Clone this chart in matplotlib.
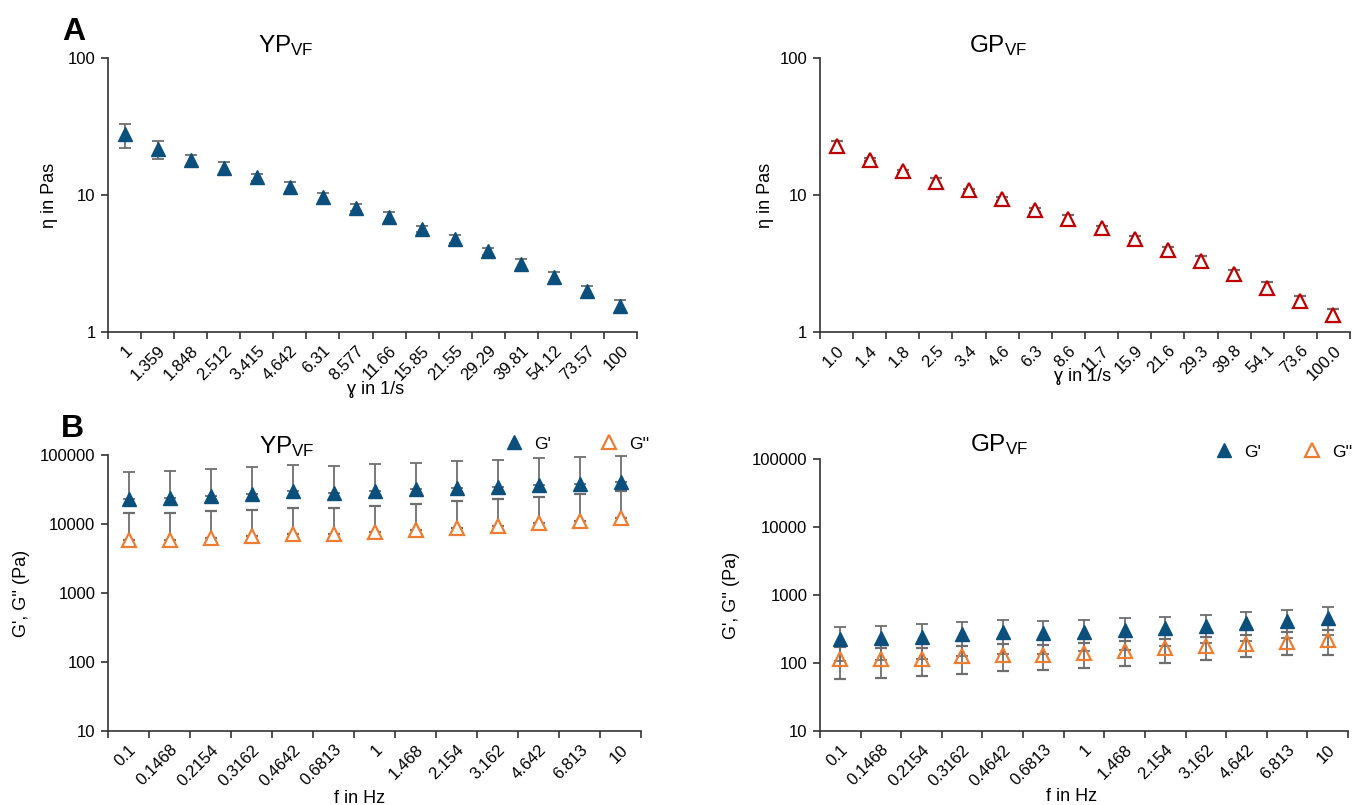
import matplotlib
matplotlib.use("Agg")
import matplotlib.pyplot as plt
from matplotlib.lines import Line2D
from matplotlib.ticker import FixedLocator, FixedFormatter, NullLocator
import numpy as np

plt.rcParams['font.family'] = ['Liberation Sans', 'DejaVu Sans']
plt.rcParams['mathtext.fontset'] = 'custom'
plt.rcParams['mathtext.rm'] = 'Liberation Sans'
plt.rcParams['mathtext.it'] = 'Liberation Sans'

# ---------------- data ----------------
yp_shear_labels = ['1', '1.359', '1.848', '2.512', '3.415', '4.642', '6.31', '8.577',
                   '11.66', '15.85', '21.55', '29.29', '39.81', '54.12', '73.57', '100']
yp_eta = [27.7, 21.6, 17.9, 15.8, 13.5, 11.5, 9.6, 8.1, 6.9, 5.65, 4.8, 3.88, 3.13, 2.5, 1.98, 1.54]
yp_eta_err = [5.5, 3.3, 1.6, 1.5, 0.8, 0.9, 0.8, 0.5, 0.6, 0.3, 0.3, 0.23, 0.28, 0.22, 0.17, 0.17]

gp_shear_labels = ['1.0', '1.4', '1.8', '2.5', '3.4', '4.6', '6.3', '8.6', '11.7', '15.9',
                   '21.6', '29.3', '39.8', '54.1', '73.6', '100.0']
gp_eta = [22.8, 18.1, 14.9, 12.5, 10.8, 9.3, 7.8, 6.65, 5.7, 4.8, 4.0, 3.3, 2.64, 2.11, 1.68, 1.32]
gp_eta_err = [1.8, 0.4, 0.4, 0.9, 0.3, 0.3, 0.3, 0.55, 0.2, 0.2, 0.2, 0.26, 0.2, 0.2, 0.15, 0.14]

freq_labels = ['0.1', '0.1468', '0.2154', '0.3162', '0.4642', '0.6813', '1', '1.468',
               '2.154', '3.162', '4.642', '6.813', '10']
yp_g1 = [23200, 24200, 25600, 26800, 29700, 28000, 30300, 31700, 33100, 34600, 36600, 38300, 40000]
yp_g1_err = [33400, 35000, 36400, 39400, 41100, 42000, 42800, 44800, 47800, 49000, 52900, 54200, 57800]
yp_g2 = [5800, 5940, 6200, 6640, 7100, 7180, 7590, 8110, 8670, 9270, 10370, 11220, 12400]
yp_g2_err = [8400, 8560, 9000, 9360, 10000, 10120, 10710, 11490, 12530, 13630, 14430, 15880, 17900]
gp_g1 = [222, 230, 243, 263, 282, 272, 288, 305, 330, 353, 382, 414, 463]
gp_g1_err = [115, 119, 127, 137, 146, 137, 140, 148, 150, 154, 173, 180, 202]
gp_g2 = [116, 113, 116, 125, 132, 132, 140, 151, 164, 177, 192, 207, 217]
gp_g2_err = [57, 52, 51, 55, 56, 53, 55, 60, 64, 67, 70, 77, 87]

eta_ticks = [1, 10, 100]
mod_ticks = [10, 100, 1000, 10000, 100000]

# ---------------- style ----------------
BLUE = '#0B4F7C'
RED = '#C00000'
ORANGE = '#ED7D31'
GREY = '#6E6E6E'
AXC = '#333333'

W, H = 1354, 805
fig = plt.figure(figsize=(W / 100, H / 100), dpi=100)


def px_axes(x0, x1, ytop, ybot):
    return fig.add_axes([x0 / W, 1 - ybot / H, (x1 - x0) / W, (ybot - ytop) / H])


def style_axes(ax, labels, yticks):
    n = len(labels)
    ax.set_yscale('log')
    ax.set_ylim(yticks[0], yticks[-1])
    ax.set_xlim(-0.5, n - 0.5)
    for s in ('top', 'right'):
        ax.spines[s].set_visible(False)
    for s in ('left', 'bottom'):
        ax.spines[s].set_color(AXC)
        ax.spines[s].set_linewidth(1.2)
    ax.yaxis.set_major_locator(FixedLocator(yticks))
    ax.yaxis.set_major_formatter(FixedFormatter([str(t) for t in yticks]))
    ax.yaxis.set_minor_locator(NullLocator())
    ax.tick_params(axis='y', direction='out', length=5, width=1.2, color=AXC,
                   labelsize=12, pad=4, labelcolor='black')
    # category boundaries as tick marks, labels at centres
    ax.xaxis.set_major_locator(FixedLocator(np.arange(-0.5, n, 1.0)))
    ax.xaxis.set_major_formatter(FixedFormatter([''] * (n + 1)))
    ax.xaxis.set_minor_locator(FixedLocator(np.arange(n)))
    ax.xaxis.set_minor_formatter(FixedFormatter(labels))
    ax.tick_params(axis='x', which='major', direction='out', length=5, width=1.2, color=AXC)
    ax.tick_params(axis='x', which='minor', length=0, labelsize=12, pad=8)
    for lab in ax.get_xticklabels(minor=True):
        lab.set_rotation(45)
        lab.set_ha('right')
        lab.set_va('top')
        lab.set_rotation_mode('anchor')


eb_kw = dict(ecolor=GREY, elinewidth=1.3, capsize=4.5, capthick=1.3, linestyle='none')

# ---- Panel A left ----
ax1 = px_axes(108, 637, 58, 332)
style_axes(ax1, yp_shear_labels, eta_ticks)
x16 = np.arange(len(yp_shear_labels))
ax1.errorbar(x16, yp_eta, yerr=yp_eta_err, marker='^', ms=9.5, mfc=BLUE, mec=BLUE,
             zorder=3, **eb_kw)

# ---- Panel A right ----
ax2 = px_axes(820, 1350, 58, 332)
style_axes(ax2, gp_shear_labels, eta_ticks)
ax2.errorbar(x16, gp_eta, yerr=gp_eta_err, marker='^', ms=10, mfc='white', mec=RED,
             mew=1.6, zorder=3, **eb_kw)

# ---- Panel B left ----
ax3 = px_axes(108, 641, 455, 731)
style_axes(ax3, freq_labels, mod_ticks)
x13 = np.arange(len(freq_labels))
ax3.errorbar(x13, yp_g1, yerr=[np.zeros(len(yp_g1)), yp_g1_err], marker='^', ms=9.5,
             mfc=BLUE, mec=BLUE, zorder=3, **eb_kw)
ax3.errorbar(x13, yp_g2, yerr=[np.zeros(len(yp_g2)), yp_g2_err], marker='^', ms=10,
             mfc='white', mec=ORANGE, mew=1.6, zorder=3, **eb_kw)

# ---- Panel B right ----
ax4 = px_axes(820, 1348, 459, 731)
style_axes(ax4, freq_labels, mod_ticks)
ax4.errorbar(x13, gp_g1, yerr=gp_g1_err, marker='^', ms=9.5, mfc=BLUE, mec=BLUE,
             zorder=3, **eb_kw)
ax4.errorbar(x13, gp_g2, yerr=gp_g2_err, marker='^', ms=10, mfc='none', mec=ORANGE,
             mew=1.6, zorder=3, **eb_kw)

# legends
h_g1 = Line2D([], [], marker='^', ms=9.5, mfc=BLUE, mec=BLUE, ls='none')
h_g2 = Line2D([], [], marker='^', ms=10, mfc='none', mec=ORANGE, mew=1.6, ls='none')
for ax, xl, yc, cs in ((ax3, 505, 444, 2.8), (ax4, 1215, 452, 2.4)):
    ax.legend([h_g1, h_g2], ["G'", "G''"], ncol=2, frameon=False, loc='center left',
              bbox_to_anchor=(xl / W, 1 - yc / H), bbox_transform=fig.transFigure,
              borderpad=0, borderaxespad=0, handlelength=1.0, handletextpad=0.7,
              columnspacing=cs, fontsize=12.5)

# titles
def ftext(x, y, s, **kw):
    fig.text(x / W, 1 - y / H, s, **kw)

ftext(258, 52, r'YP$_{\mathrm{VF}}$', fontsize=17.5, ha='left', va='baseline')
ftext(969, 52, r'GP$_{\mathrm{VF}}$', fontsize=17.5, ha='left', va='baseline')
ftext(259, 453, r'YP$_{\mathrm{VF}}$', fontsize=17.5, ha='left', va='baseline')
ftext(970, 451, r'GP$_{\mathrm{VF}}$', fontsize=17.5, ha='left', va='baseline')

# panel letters
ftext(62, 40, 'A', fontsize=23, fontweight='bold', ha='left', va='baseline')
ftext(61, 437, 'B', fontsize=23, fontweight='bold', ha='left', va='baseline')

# axis labels
ftext(50, 195, 'η in Pas', fontsize=13, rotation=90, ha='center', va='center')
ftext(765, 195, 'η in Pas', fontsize=13, rotation=90, ha='center', va='center')
ftext(22, 593, "G', G'' (Pa)", fontsize=13, rotation=90, ha='center', va='center')
ftext(732, 595, "G', G'' (Pa)", fontsize=13, rotation=90, ha='center', va='center')
ftext(376, 389, 'ɣ in 1/s', fontsize=13, ha='center', va='center')
ftext(1083, 376, 'ɣ in 1/s', fontsize=13, ha='center', va='center')
ftext(360, 798, 'f in Hz', fontsize=13, ha='center', va='center')
ftext(1072, 796, 'f in Hz', fontsize=13, ha='center', va='center')

fig.savefig('out.png', dpi=100, facecolor='white')
